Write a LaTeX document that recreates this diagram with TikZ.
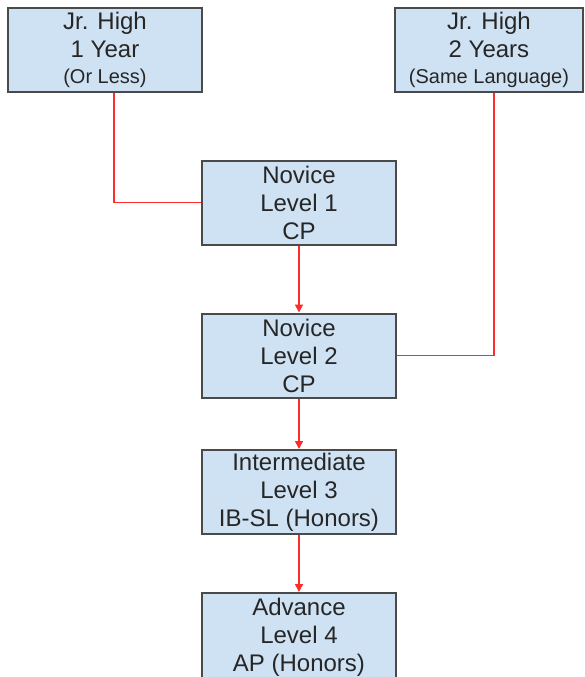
\documentclass[tikz,border=0pt]{standalone}
\usepackage{fontspec}
\setmainfont{Liberation Sans}
\usetikzlibrary{calc}
\usetikzlibrary{arrows.meta}
\definecolor{boxblue}{HTML}{CFE2F3}
\definecolor{boxgray}{HTML}{4A4A4A}
\definecolor{linkred}{HTML}{FF2A2A}
\definecolor{textgray}{HTML}{262626}
\newcommand{\smalltxt}{\fontsize{10}{11}\selectfont}
\tikzset{
  course/.style={draw=boxgray,fill=boxblue,line width=1pt,minimum width=97pt,
    minimum height=42pt,inner sep=0pt,align=center,text=textgray,
    font=\fontsize{12}{14}\selectfont},
  link/.style={draw=linkred,line width=0.75pt},
  linkarrow/.style={link,-{Triangle[length=4pt,width=4pt]}}
}

\begin{document}
\begin{tikzpicture}[x=0.5pt,y=-0.5pt]
  \clip (0,0) rectangle (585,677);

  \node[course] (jhone) at (105,50) {Jr. High\\1 Year\\[-1pt]\smalltxt (Or Less)};
  \node[course,minimum width=94pt] (jhtwo) at (489,50) {Jr. High\\2 Years\\[-1pt]\smalltxt (Same Language)};

  \node[course] (novone) at (299,202.5) {Novice\\Level 1\\CP};
  \node[course] (novtwo) at (299,355.5) {Novice\\Level 2\\CP};
  \node[course] (inter) at (299,492) {Intermediate\\Level 3\\IB-SL (Honors)};
  \node[course,minimum height=44pt] (adv) at (299,637) {Advance\\Level 4\\AP (Honors)};

  \draw[link] ($(jhone.south)+(9,0)$) |- (novone.west);
  \draw[link] ($(jhtwo.south)+(5,0)$) |- (novtwo.east);
  \draw[linkarrow] (novone) -- (novtwo);
  \draw[linkarrow] (novtwo) -- (inter);
  \draw[linkarrow] (inter) -- (adv);
\end{tikzpicture}
\end{document}
